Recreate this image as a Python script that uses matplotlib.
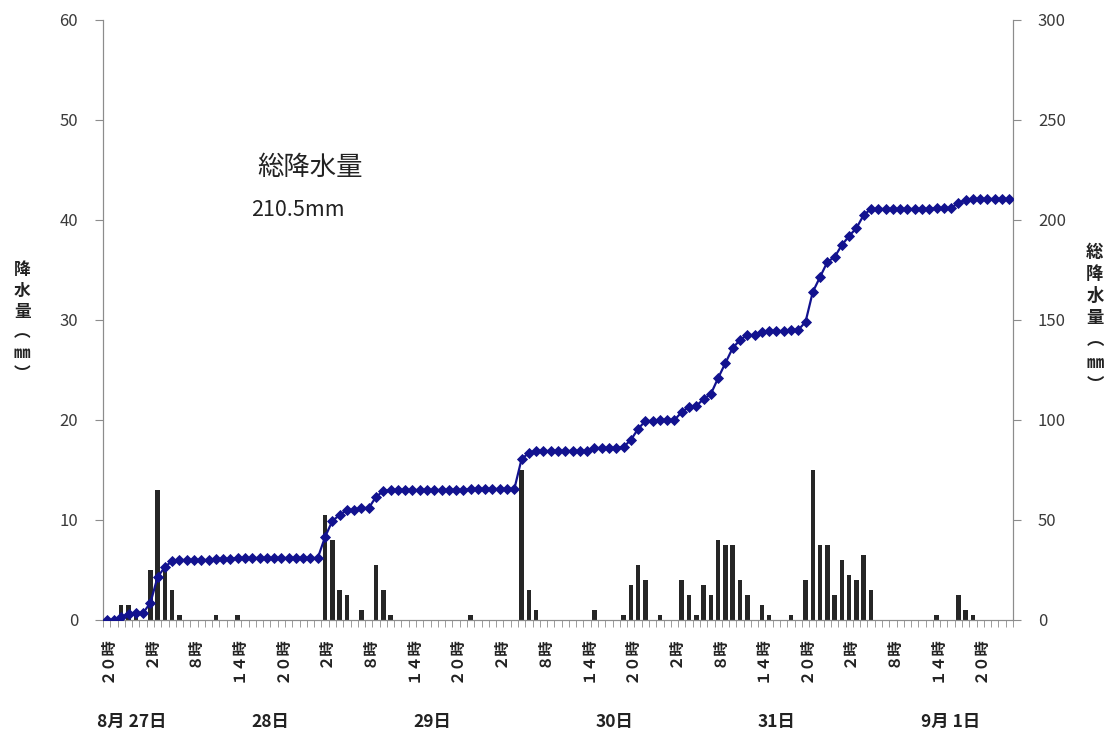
import matplotlib
matplotlib.use("Agg")
import matplotlib.pyplot as plt

plt.rcParams["font.family"] = ["Noto Sans CJK JP", "DejaVu Sans"]

# hourly rainfall (mm), one value per hour starting 8/26 20時
hourly_rain = [
    0, 0, 1.5, 1.5, 0.5, 0, 5, 13, 5, 3,
    0.5, 0, 0, 0, 0, 0.5, 0, 0, 0.5, 0,
    0, 0, 0, 0, 0, 0, 0, 0, 0, 0,
    10.5, 8, 3, 2.5, 0, 1, 0, 5.5, 3, 0.5,
    0, 0, 0, 0, 0, 0, 0, 0, 0, 0,
    0.5, 0, 0, 0, 0, 0, 0, 15, 3, 1,
    0, 0, 0, 0, 0, 0, 0, 1, 0, 0,
    0, 0.5, 3.5, 5.5, 4, 0, 0.5, 0, 0, 4,
    2.5, 0.5, 3.5, 2.5, 8, 7.5, 7.5, 4, 2.5, 0,
    1.5, 0.5, 0, 0, 0.5, 0, 4, 15, 7.5, 7.5,
    2.5, 6, 4.5, 4, 6.5, 3, 0, 0, 0, 0,
    0, 0, 0, 0, 0.5, 0, 0, 2.5, 1, 0.5,
    0, 0, 0, 0, 0,
]

# cumulative rainfall (mm)
total_rain = [
    0, 0, 1.5, 3, 3.5, 3.5, 8.5, 21.5, 26.5, 29.5,
    30, 30, 30, 30, 30, 30.5, 30.5, 30.5, 31, 31,
    31, 31, 31, 31, 31, 31, 31, 31, 31, 31,
    41.5, 49.5, 52.5, 55, 55, 56, 56, 61.5, 64.5, 65,
    65, 65, 65, 65, 65, 65, 65, 65, 65, 65,
    65.5, 65.5, 65.5, 65.5, 65.5, 65.5, 65.5, 80.5, 83.5, 84.5,
    84.5, 84.5, 84.5, 84.5, 84.5, 84.5, 84.5, 86, 86, 86,
    86, 86.5, 90, 95.5, 99.5, 99.5, 100, 100, 100, 104,
    106.5, 107, 110.5, 113, 121, 128.5, 136, 140, 142.5, 142.5,
    144, 144.5, 144.5, 144.5, 145, 145, 149, 164, 171.5, 179,
    181.5, 187.5, 192, 196, 202.5, 205.5, 205.5, 205.5, 205.5, 205.5,
    205.5, 205.5, 205.5, 205.5, 206, 206, 206, 208.5, 210, 210.5,
    210.5, 210.5, 210.5, 210.5, 210.5,
]

hour_labels = ["２０時", "２時", "８時", "１４時"]
day_labels = ["8月 27日", "28日", "29日", "30日", "31日", "9月 1日"]
day_label_pos = [3.4, 22.5, 44.8, 69.7, 92.0, 116.0]

n = len(hourly_rain)
x = list(range(n))

fig = plt.figure(figsize=(11.15, 7.4), dpi=100)
ax = fig.add_axes([0.0924, 0.1622, 0.8161, 0.8108])
ax.bar(x, hourly_rain, width=0.62, color="#262626", zorder=2)
ax.set_xlim(-0.5, n - 0.5)
ax.set_ylim(0, 60)
ax.set_yticks(range(0, 61, 10))

ax2 = ax.twinx()
ax2.plot(x, total_rain, color="#12128f", linewidth=1.6, marker="D",
         markersize=5.2, markeredgewidth=0.6, zorder=3)
ax2.set_ylim(0, 300)
ax2.set_yticks(range(0, 301, 50))

spine_color = "#8c8c8c"
for a in (ax, ax2):
    a.spines["top"].set_visible(False)
    for side in ("left", "right", "bottom"):
        a.spines[side].set_color(spine_color)
    a.tick_params(axis="y", colors=spine_color, length=6, labelsize=12,
                  labelcolor="#3a3a3a", pad=12)

# category boundaries as small ticks, labels every 6 hours
ax.set_xticks([i - 0.5 for i in range(n + 1)], minor=True)
tick_pos = list(range(0, n, 6))
ax.set_xticks(tick_pos)
ax.set_xticklabels([hour_labels[k % 4] for k in range(len(tick_pos))],
                   rotation=90, fontsize=11, fontweight="bold", color="#222222")
ax.tick_params(axis="x", which="major", length=0, pad=12)
ax.tick_params(axis="x", which="minor", length=5, color=spine_color)

for pos, label in zip(day_label_pos, day_labels):
    ax.text(pos, -0.17, label, transform=ax.get_xaxis_transform(),
            ha="center", va="center", fontsize=12.5, fontweight="bold",
            color="#222222")

ax.text(0.228, 0.755, "総降水量", transform=ax.transAxes, ha="center",
        va="center", fontsize=19, color="#222222")
ax.text(0.214, 0.683, "210.5mm", transform=ax.transAxes, ha="center",
        va="center", fontsize=15.5, color="#222222")

fig.text(0.020, 0.565, "降\n水\n量\n︵\n㎜\n︶", ha="center", va="center",
         fontsize=12, fontweight="bold", linespacing=1.2, color="#222222")
fig.text(0.982, 0.57, "総\n降\n水\n量\n︵\n㎜\n︶", ha="center", va="center",
         fontsize=12.5, fontweight="bold", linespacing=1.3, color="#222222")

fig.savefig("out.png", dpi=100)
